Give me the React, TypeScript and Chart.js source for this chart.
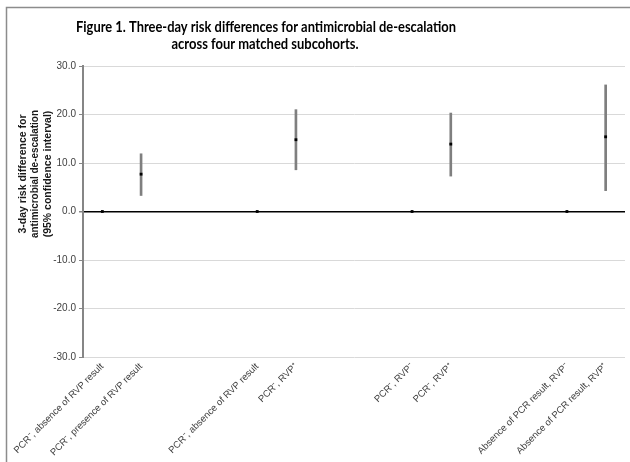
import React, { useEffect, useRef } from "react";
import { Chart, registerables } from "chart.js";

Chart.register(...registerables);

const categories: string[] = [
  "PCR⁻, absence of RVP result",
  "PCR⁻, presence of RVP result",
  "",
  "",
  "PCR⁻, absence of RVP result",
  "PCR⁻, RVP⁺",
  "",
  "",
  "PCR⁻, RVP⁻",
  "PCR⁻, RVP⁺",
  "",
  "",
  "Absence of PCR result, RVP⁻",
  "Absence of PCR result, RVP⁺",
];

const estimates: (number | null)[] = [0, 7.7, null, null, 0, 14.8, null, null, 0, 13.9, null, null, 0, 15.4];
const ciLow: (number | null)[] = [null, 3.3, null, null, null, 8.6, null, null, null, 7.3, null, null, null, 4.3];
const ciHigh: (number | null)[] = [null, 11.9, null, null, null, 21.0, null, null, null, 20.3, null, null, null, 26.1];

const yTicks: number[] = [-30, -20, -10, 0, 10, 20, 30];

const titleLines: string[] = [
  "Figure 1. Three-day risk differences for antimicrobial de-escalation",
  "across four matched subcohorts.",
];
const yTitleLines: string[] = [
  "3-day risk difference for",
  "antimicrobial de-escalation",
  "(95% confidence interval)",
];

const decorPlugin = {
  id: "decor",
  afterDraw(chart: any) {
    const ctx = chart.ctx as CanvasRenderingContext2D;
    ctx.save();
    // frame
    ctx.strokeStyle = "#8c8c8c";
    ctx.lineWidth = 1.5;
    ctx.beginPath();
    ctx.moveTo(6.5, 462);
    ctx.lineTo(6.5, 7.5);
    ctx.lineTo(630, 7.5);
    ctx.stroke();
    // title
    ctx.fillStyle = "#000";
    ctx.textAlign = "center";
    ctx.textBaseline = "alphabetic";
    ctx.font = 'bold 15px Lato, "Open Sans", sans-serif';
    ctx.fillText(titleLines[0], 266, 32, 380);
    ctx.fillText(titleLines[1], 265, 49, 187);
    // y title
    ctx.font = 'bold 10.5px "Liberation Sans", Arial, sans-serif';
    ctx.fillStyle = "#1a1a1a";
    ctx.textBaseline = "middle";
    const xs = [23, 35.5, 48];
    yTitleLines.forEach((t, i) => {
      ctx.save();
      ctx.translate(xs[i], 174);
      ctx.rotate(-Math.PI / 2);
      ctx.fillText(t, 0, 0, 128);
      ctx.restore();
    });
    ctx.restore();
  },
};

export default function App() {
  const ref = useRef<HTMLCanvasElement | null>(null);
  useEffect(() => {
    if (!ref.current) return;
    const ciData = ciLow.map((l, i) => (l == null || ciHigh[i] == null ? null : [l, ciHigh[i] as number]));
    const chart = new Chart(ref.current, {
      type: "bar",
      data: {
        labels: categories,
        datasets: [
          {
            type: "line",
            data: estimates as any,
            showLine: false,
            pointStyle: "rect",
            pointRadius: 2,
            pointBackgroundColor: "#000",
            pointBorderColor: "#000",
            pointBorderWidth: 0,
            order: 0,
          } as any,
          {
            type: "bar",
            data: ciData as any,
            backgroundColor: "#7f7f7f",
            borderWidth: 0,
            barThickness: 2,
            order: 1,
          } as any,
        ],
      },
      plugins: [decorPlugin],
      options: {
        animation: false,
        responsive: false,
        devicePixelRatio: 1,
        layout: { padding: { left: 0, right: 5, top: 66, bottom: 0 } },
        plugins: { legend: { display: false }, tooltip: { enabled: false }, title: { display: false } },
        scales: {
          x: {
            offset: true,
            grid: { display: false, drawTicks: false },
            border: { display: false },
            ticks: {
              autoSkip: false,
              maxRotation: 45,
              minRotation: 45,
              padding: 4,
              color: "#404040",
              font: { family: '"Liberation Sans", Arial, sans-serif', size: 9.5 },
            },
            afterFit(scale: any) {
              scale.height = 105;
            },
          },
          y: {
            min: -30,
            max: 30,
            afterBuildTicks(scale: any) {
              scale.ticks = yTicks.map((v) => ({ value: v }));
            },
            grid: {
              color: (c: any) => (c.tick && c.tick.value === 0 ? "#000" : "#d9d9d9"),
              lineWidth: (c: any) => (c.tick && c.tick.value === 0 ? 1.5 : 1),
              tickColor: "#868686",
              tickLength: 4,
            },
            border: { display: true, color: "#868686", width: 2 },
            ticks: {
              padding: 3,
              color: "#404040",
              font: { family: '"Liberation Sans", Arial, sans-serif', size: 10 },
              callback: (v: any) => Number(v).toFixed(1),
            },
            afterFit(scale: any) {
              scale.width = 83;
            },
          },
        },
      },
    });
    return () => chart.destroy();
  }, []);
  return (
    <div style={{ position: "fixed", left: 0, top: 0, width: 630, height: 462, background: "#fff" }}>
      <canvas ref={ref} width={630} height={462} style={{ width: 630, height: 462, display: "block" }} />
    </div>
  );
}
